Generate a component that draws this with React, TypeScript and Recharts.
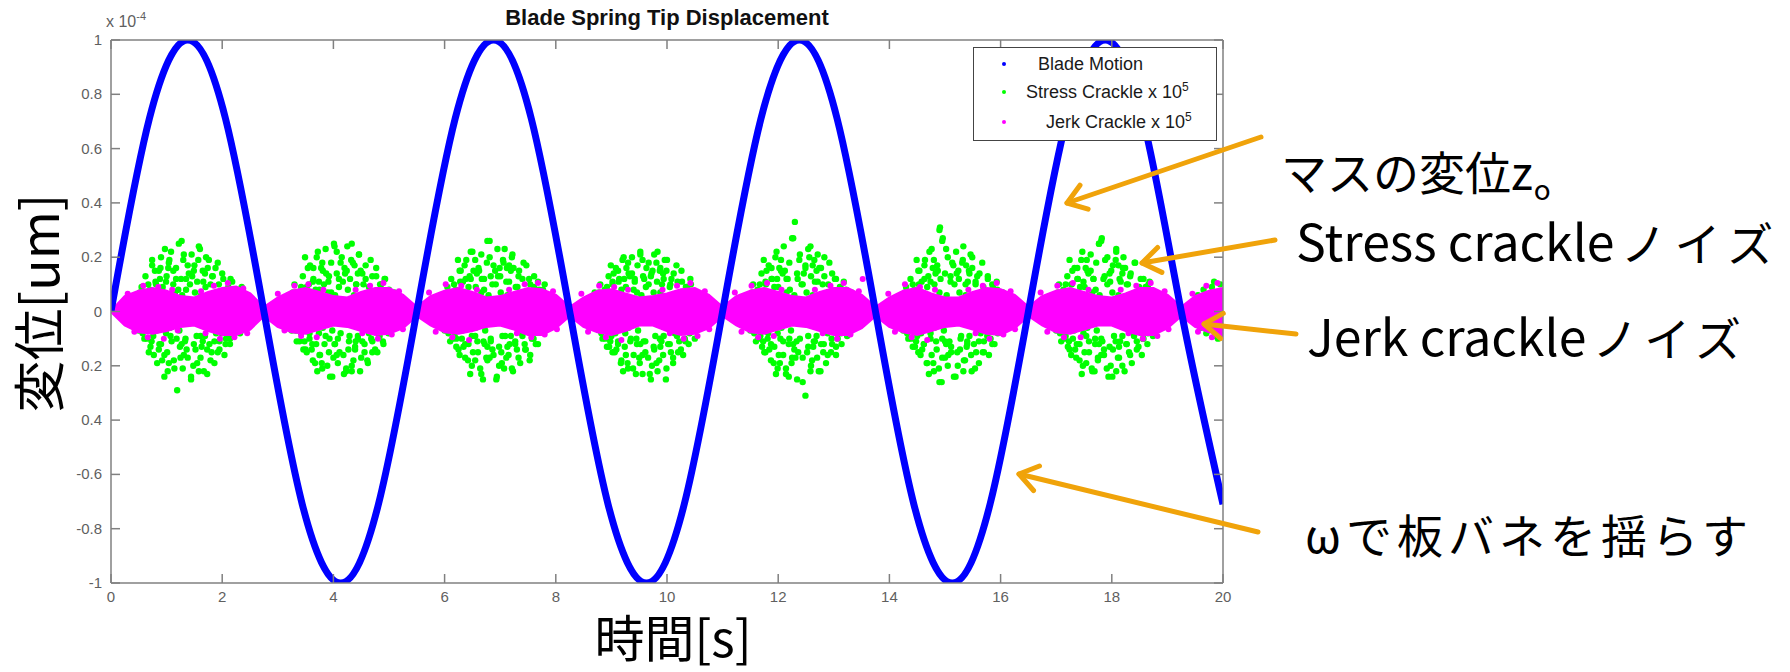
import React from 'react';
import { ComposedChart, Line, Area, Scatter, XAxis, YAxis, Legend } from 'recharts';

// ---------------- data ----------------
const xTicks = [0, 2, 4, 6, 8, 10, 12, 14, 16, 18, 20];
const yTicks = [-1, -0.8, -0.6, -0.4, -0.2, 0, 0.2, 0.4, 0.6, 0.8, 1];
const yTickLabels = ['-1', '-0.8', '-0.6', '0.4', '0.2', '0', '0.2', '0.4', '0.6', '0.8', '1'];

// Blade motion (x 1e-4)
const bladeT = [0, 0.69, 1.38, 2.06, 2.75, 3.44, 4.13, 4.81, 5.5, 6.19, 6.88, 7.56, 8.25, 8.94, 9.63, 10.31, 11.0, 11.69, 12.38, 13.06, 13.75, 14.44, 15.13, 15.81, 16.5, 17.19, 17.88, 18.56, 19.25, 20];
const bladeV = [0, 0.71, 1, 0.71, 0, -0.71, -1, -0.71, 0, 0.71, 1, 0.71, 0, -0.71, -1, -0.71, 0, 0.71, 1, 0.71, 0, -0.71, -1, -0.71, 0, 0.71, 1, 0.71, 0, -0.71];

// Jerk crackle band (x 1e5), sampled every 0.25 s
const jerkT = [0, 0.25, 0.5, 0.75, 1, 1.25, 1.5, 1.75, 2, 2.25, 2.5, 2.75, 3, 3.25, 3.5, 3.75, 4, 4.25, 4.5, 4.75, 5, 5.25, 5.5, 5.75, 6, 6.25, 6.5, 6.75, 7, 7.25, 7.5, 7.75, 8, 8.25, 8.5, 8.75, 9, 9.25, 9.5, 9.75, 10, 10.25, 10.5, 10.75, 11, 11.25, 11.5, 11.75, 12, 12.25, 12.5, 12.75, 13, 13.25, 13.5, 13.75, 14, 14.25, 14.5, 14.75, 15, 15.25, 15.5, 15.75, 16, 16.25, 16.5, 16.75, 17, 17.25, 17.5, 17.75, 18, 18.25, 18.5, 18.75, 19, 19.25, 19.5, 19.75, 20];
const jerkHi = [0.0, 0.055, 0.075, 0.085, 0.075, 0.055, 0.05, 0.07, 0.085, 0.09, 0.065, 0.015,
  0.05, 0.075, 0.085, 0.07, 0.055, 0.05, 0.07, 0.085, 0.085, 0.06, 0.015,
  0.055, 0.075, 0.085, 0.07, 0.05, 0.055, 0.07, 0.085, 0.08, 0.06, 0.015,
  0.05, 0.075, 0.08, 0.065, 0.05, 0.055, 0.065, 0.08, 0.085, 0.06, 0.015,
  0.055, 0.075, 0.085, 0.07, 0.055, 0.05, 0.07, 0.085, 0.085, 0.06, 0.015,
  0.05, 0.075, 0.085, 0.065, 0.05, 0.05, 0.07, 0.085, 0.08, 0.06, 0.015,
  0.055, 0.075, 0.085, 0.07, 0.055, 0.05, 0.065, 0.085, 0.085, 0.06, 0.015,
  0.055, 0.075, 0.085];
const jerkLo = [0.0, -0.05, -0.075, -0.08, -0.07, -0.055, -0.05, -0.07, -0.085, -0.085, -0.065, -0.015,
  -0.055, -0.075, -0.08, -0.065, -0.05, -0.055, -0.07, -0.085, -0.08, -0.06, -0.015,
  -0.05, -0.075, -0.08, -0.07, -0.055, -0.05, -0.065, -0.085, -0.085, -0.06, -0.015,
  -0.055, -0.075, -0.085, -0.07, -0.05, -0.05, -0.07, -0.085, -0.08, -0.06, -0.015,
  -0.05, -0.075, -0.08, -0.065, -0.05, -0.055, -0.07, -0.085, -0.085, -0.06, -0.015,
  -0.055, -0.075, -0.085, -0.07, -0.055, -0.05, -0.065, -0.08, -0.085, -0.06, -0.015,
  -0.05, -0.075, -0.08, -0.065, -0.05, -0.05, -0.07, -0.085, -0.085, -0.06, -0.015,
  -0.055, -0.075, -0.08];

// Jerk crackle dots lying around the band edges
const jerkDots = [
  [0.3, 0.065], [0.42, -0.075], [0.58, 0.095], [0.66, -0.095], [0.85, 0.09], [0.95, -0.1], [1.1, 0.08], [1.2, -0.07], [1.62, 0.075], [1.7, -0.08], [1.85, 0.095], [1.96, -0.1], [2.1, 0.105], [2.22, -0.095], [2.38, 0.085], [2.45, -0.08],
  [3.0, 0.065], [3.12, -0.07], [3.3, 0.095], [3.42, -0.09], [3.55, 0.1], [3.7, -0.095], [3.82, 0.08], [4.4, 0.08], [4.52, -0.08], [4.66, 0.095], [4.8, -0.1], [4.9, 0.105], [5.05, -0.085], [5.18, 0.075], [5.25, -0.065],
  [5.72, 0.07], [5.84, -0.075], [6.02, 0.1], [6.14, -0.095], [6.3, 0.095], [6.44, -0.105], [6.58, 0.08], [7.16, 0.08], [7.3, -0.08], [7.44, 0.1], [7.56, -0.095], [7.68, 0.105], [7.8, -0.085], [7.95, 0.075], [8.02, -0.065],
  [8.46, 0.065], [8.58, -0.075], [8.78, 0.095], [8.9, -0.095], [9.05, 0.09], [9.18, -0.105], [9.3, 0.08], [9.92, 0.08], [10.05, -0.08], [10.18, 0.095], [10.3, -0.1], [10.42, 0.105], [10.55, -0.09], [10.68, 0.075], [10.76, -0.065],
  [11.22, 0.07], [11.34, -0.075], [11.52, 0.095], [11.64, -0.095], [11.8, 0.105], [11.92, -0.09], [12.06, 0.08], [12.66, 0.08], [12.8, -0.08], [12.94, 0.095], [13.06, -0.1], [13.18, 0.105], [13.3, -0.085], [13.45, 0.075], [13.52, 0.12],
  [13.98, 0.065], [14.1, -0.075], [14.28, 0.1], [14.4, -0.095], [14.55, 0.09], [14.68, -0.105], [14.82, 0.08], [15.42, 0.08], [15.55, -0.08], [15.68, 0.095], [15.8, -0.1], [15.93, 0.105], [16.05, -0.085], [16.18, 0.075], [16.26, -0.065],
  [16.72, 0.07], [16.84, -0.075], [17.02, 0.095], [17.14, -0.095], [17.3, 0.105], [17.44, -0.095], [17.58, 0.08], [18.16, 0.08], [18.3, -0.08], [18.44, 0.095], [18.56, -0.1], [18.7, 0.105], [18.82, -0.09], [18.95, 0.075], [19.02, -0.065],
  [19.45, 0.065], [19.55, -0.075], [19.7, 0.095], [19.8, -0.095], [19.9, 0.105], [19.97, -0.09],
];

// Stress crackle scatter (x 1e5)
const stressCrackle = [
  [0.45, 0.06], [0.55, 0.09], [0.62, 0.13], [0.7, 0.08], [0.74, 0.17], [0.8, 0.11], [0.86, 0.15], [0.9, 0.2], [0.95, 0.07], [1.0, 0.13], [1.04, 0.18], [1.08, 0.22], [1.12, 0.1], [1.17, 0.16], [1.22, 0.25], [1.26, 0.12], [1.3, 0.19], [1.35, 0.08], [1.4, 0.14], [1.45, 0.21], [1.5, 0.17], [1.55, 0.11], [1.6, 0.23], [1.65, 0.15], [1.7, 0.09], [1.76, 0.19], [1.82, 0.13], [1.88, 0.16], [1.94, 0.1], [2.0, 0.14], [2.08, 0.08], [2.15, 0.12], [2.25, 0.07], [2.35, 0.09],
  [0.5, -0.07], [0.6, -0.1], [0.68, -0.15], [0.76, -0.09], [0.83, -0.19], [0.9, -0.12], [0.96, -0.16], [1.02, -0.22], [1.07, -0.09], [1.13, -0.18], [1.19, -0.29], [1.24, -0.13], [1.29, -0.21], [1.34, -0.1], [1.38, -0.17], [1.44, -0.24], [1.49, -0.12], [1.55, -0.19], [1.61, -0.09], [1.67, -0.22], [1.73, -0.14], [1.79, -0.18], [1.86, -0.11], [1.92, -0.15], [1.99, -0.08], [2.06, -0.12], [2.14, -0.1], [2.22, -0.07], [2.32, -0.08],
  [0.52, 0.07], [1.31, 0.21], [0.88, 0.12], [1.74, 0.16], [1.05, 0.19], [2.11, 0.09], [0.67, 0.1], [1.46, 0.13], [1.92, 0.18], [0.79, 0.15], [1.21, 0.08], [1.58, 0.24], [2.27, 0.08], [0.97, 0.23], [1.66, 0.11], [1.12, 0.15], [0.61, 0.05], [1.83, 0.13], [1.38, 0.17], [2.02, 0.12], [0.93, 0.09], [1.27, 0.26], [1.51, 0.07], [0.74, 0.19], [1.99, 0.07], [1.17, 0.12], [1.71, 0.2], [0.84, 0.06], [1.42, 0.1], [2.18, 0.11],
  [0.57, -0.08], [1.36, -0.14], [0.92, -0.18], [1.77, -0.12], [1.09, -0.11], [2.07, -0.1], [0.71, -0.13], [1.48, -0.2], [1.95, -0.14], [0.82, -0.07], [1.61, -0.17], [2.24, -0.07], [1.01, -0.15], [1.69, -0.09], [1.14, -0.21], [0.64, -0.1], [1.86, -0.19], [1.33, -0.11], [2.04, -0.16], [0.96, -0.24], [1.25, -0.17], [1.54, -0.09], [0.77, -0.16], [1.89, -0.08], [1.23, -0.07], [1.73, -0.23], [0.87, -0.12], [1.44, -0.25], [2.14, -0.12], [1.06, -0.06], [1.63, -0.13],
  [0.81, 0.1], [1.15, 0.07], [1.49, 0.15], [1.79, 0.1], [1.03, 0.16], [1.62, 0.06], [0.99, 0.11], [1.35, 0.12], [1.69, 0.14], [1.28, 0.06], [0.89, 0.16], [1.57, 0.19],
  [0.86, -0.14], [1.18, -0.1], [1.52, -0.14], [1.81, -0.15], [1.04, -0.19], [1.65, -0.11], [0.99, -0.08], [1.31, -0.16], [1.58, -0.22], [1.27, -0.12], [0.73, -0.11], [1.95, -0.11],
  [3.2, 0.06], [3.3, 0.1], [3.38, 0.07], [3.45, 0.13], [3.52, 0.09], [3.58, 0.17], [3.64, 0.12], [3.7, 0.2], [3.75, 0.08], [3.81, 0.15], [3.86, 0.23], [3.91, 0.11], [3.96, 0.18], [4.01, 0.25], [4.06, 0.14], [4.1, 0.09], [4.15, 0.2], [4.2, 0.16], [4.25, 0.24], [4.3, 0.12], [4.35, 0.18], [4.41, 0.1], [4.46, 0.21], [4.52, 0.14], [4.58, 0.17], [4.64, 0.09], [4.7, 0.13], [4.77, 0.16], [4.84, 0.1], [4.92, 0.12], [5.0, 0.08], [5.1, 0.07],
  [3.25, -0.07], [3.34, -0.11], [3.42, -0.08], [3.5, -0.14], [3.57, -0.1], [3.63, -0.18], [3.69, -0.12], [3.75, -0.16], [3.8, -0.21], [3.86, -0.09], [3.92, -0.15], [3.98, -0.24], [4.03, -0.12], [4.08, -0.19], [4.13, -0.08], [4.18, -0.16], [4.23, -0.22], [4.28, -0.11], [4.33, -0.2], [4.39, -0.14], [4.44, -0.09], [4.5, -0.17], [4.56, -0.12], [4.62, -0.19], [4.68, -0.1], [4.75, -0.14], [4.83, -0.09], [4.9, -0.12], [4.98, -0.07],
  [3.27, 0.07], [4.06, 0.22], [3.63, 0.11], [4.49, 0.15], [3.8, 0.18], [4.86, 0.1], [3.42, 0.09], [4.21, 0.14], [4.67, 0.19], [3.54, 0.16], [3.96, 0.07], [4.33, 0.25], [5.02, 0.07], [3.72, 0.22], [4.41, 0.1], [3.87, 0.14], [3.36, 0.06], [4.58, 0.12], [4.13, 0.18], [4.77, 0.13], [3.68, 0.08], [4.02, 0.24], [4.26, 0.08], [3.49, 0.2], [4.74, 0.06], [3.92, 0.13], [4.46, 0.21], [3.59, 0.05], [4.17, 0.11], [4.93, 0.12], [3.83, 0.1], [4.38, 0.17],
  [3.32, -0.07], [4.11, -0.15], [3.67, -0.19], [4.52, -0.11], [3.84, -0.12], [4.82, -0.09], [3.46, -0.14], [4.23, -0.21], [4.7, -0.15], [3.57, -0.08], [3.94, -0.24], [4.36, -0.18], [4.99, -0.08], [3.76, -0.16], [4.44, -0.1], [3.89, -0.2], [3.39, -0.11], [4.61, -0.18], [4.08, -0.1], [4.79, -0.15], [3.71, -0.22], [4.0, -0.17], [4.29, -0.09], [3.52, -0.15], [4.64, -0.08], [3.98, -0.07], [4.48, -0.22], [3.62, -0.12], [4.19, -0.23], [4.89, -0.11], [3.81, -0.06], [4.39, -0.13],
  [3.56, 0.1], [3.9, 0.07], [4.24, 0.15], [4.54, 0.1], [3.78, 0.16], [4.37, 0.06], [3.74, 0.11], [4.1, 0.12], [4.44, 0.14], [4.03, 0.06], [3.64, 0.16], [4.32, 0.19],
  [3.61, -0.14], [3.93, -0.1], [4.27, -0.14], [4.56, -0.15], [3.79, -0.19], [4.4, -0.11], [3.74, -0.08], [4.06, -0.16], [4.33, -0.22], [4.02, -0.12], [3.48, -0.11], [4.7, -0.11],
  [5.95, 0.06], [6.05, 0.09], [6.12, 0.12], [6.2, 0.08], [6.27, 0.15], [6.33, 0.11], [6.39, 0.19], [6.45, 0.13], [6.5, 0.22], [6.56, 0.09], [6.61, 0.16], [6.66, 0.21], [6.71, 0.12], [6.76, 0.18], [6.81, 0.26], [6.86, 0.1], [6.91, 0.15], [6.95, 0.23], [7.0, 0.13], [7.05, 0.19], [7.11, 0.11], [7.16, 0.17], [7.22, 0.21], [7.28, 0.09], [7.34, 0.15], [7.4, 0.12], [7.47, 0.17], [7.54, 0.1], [7.61, 0.13], [7.7, 0.08], [7.8, 0.1],
  [6.0, -0.07], [6.1, -0.11], [6.18, -0.09], [6.25, -0.14], [6.31, -0.1], [6.37, -0.17], [6.43, -0.12], [6.49, -0.2], [6.55, -0.09], [6.6, -0.15], [6.66, -0.23], [6.72, -0.12], [6.77, -0.18], [6.83, -0.1], [6.88, -0.16], [6.93, -0.25], [6.98, -0.13], [7.03, -0.19], [7.09, -0.09], [7.15, -0.16], [7.21, -0.21], [7.27, -0.11], [7.33, -0.17], [7.4, -0.09], [7.46, -0.14], [7.53, -0.18], [7.6, -0.1], [7.68, -0.12], [7.76, -0.07],
  [6.03, 0.06], [6.81, 0.2], [6.38, 0.12], [7.24, 0.16], [6.55, 0.19], [7.61, 0.09], [6.17, 0.1], [6.96, 0.13], [7.42, 0.18], [6.29, 0.15], [6.71, 0.08], [7.08, 0.23], [7.77, 0.08], [6.47, 0.22], [7.16, 0.11], [6.62, 0.15], [6.11, 0.05], [7.33, 0.13], [6.88, 0.17], [7.52, 0.12], [6.43, 0.09], [6.77, 0.26], [7.01, 0.07], [6.24, 0.19], [7.49, 0.07], [6.67, 0.12], [7.21, 0.2], [6.34, 0.06], [6.92, 0.1], [7.68, 0.11], [6.58, 0.14], [7.12, 0.16],
  [6.07, -0.08], [6.86, -0.14], [6.42, -0.18], [7.27, -0.12], [6.59, -0.11], [7.57, -0.1], [6.21, -0.13], [6.98, -0.2], [7.45, -0.14], [6.32, -0.07], [6.69, -0.25], [7.11, -0.17], [7.74, -0.07], [6.51, -0.15], [7.19, -0.09], [6.64, -0.21], [6.14, -0.1], [7.36, -0.19], [6.83, -0.11], [7.54, -0.16], [6.46, -0.23], [6.75, -0.17], [7.04, -0.09], [6.27, -0.16], [7.39, -0.08], [6.73, -0.07], [7.23, -0.22], [6.37, -0.12], [6.94, -0.24], [7.64, -0.12], [6.56, -0.06], [7.13, -0.13],
  [6.28, 0.11], [6.66, 0.07], [6.99, 0.16], [7.31, 0.09], [6.52, 0.15], [7.13, 0.06], [6.47, 0.12], [6.83, 0.13], [7.19, 0.15], [6.79, 0.06], [6.36, 0.17], [7.06, 0.18],
  [6.34, -0.13], [6.7, -0.11], [7.02, -0.15], [7.3, -0.14], [6.55, -0.18], [7.17, -0.12], [6.49, -0.09], [6.81, -0.17], [7.07, -0.21], [6.77, -0.13], [6.21, -0.1], [7.44, -0.12],
  [8.7, 0.07], [8.8, 0.1], [8.88, 0.08], [8.95, 0.13], [9.02, 0.1], [9.08, 0.16], [9.14, 0.12], [9.2, 0.19], [9.26, 0.09], [9.31, 0.14], [9.37, 0.2], [9.42, 0.11], [9.47, 0.17], [9.52, 0.22], [9.57, 0.13], [9.62, 0.09], [9.67, 0.18], [9.72, 0.14], [9.77, 0.21], [9.82, 0.11], [9.88, 0.16], [9.94, 0.12], [10.0, 0.19], [10.06, 0.1], [10.12, 0.14], [10.19, 0.11], [10.26, 0.15], [10.34, 0.09], [10.42, 0.12], [10.52, 0.07],
  [8.75, -0.06], [8.84, -0.1], [8.92, -0.13], [9.0, -0.09], [9.06, -0.15], [9.12, -0.11], [9.18, -0.18], [9.24, -0.13], [9.3, -0.21], [9.35, -0.1], [9.4, -0.16], [9.46, -0.12], [9.51, -0.19], [9.56, -0.23], [9.61, -0.11], [9.66, -0.17], [9.71, -0.25], [9.76, -0.13], [9.81, -0.19], [9.87, -0.1], [9.93, -0.16], [9.99, -0.21], [10.05, -0.12], [10.11, -0.17], [10.18, -0.09], [10.25, -0.14], [10.33, -0.11], [10.41, -0.08], [10.5, -0.1],
  [8.78, 0.07], [9.56, 0.19], [9.13, 0.11], [9.99, 0.15], [9.3, 0.18], [10.36, 0.09], [8.92, 0.09], [9.71, 0.13], [10.17, 0.17], [9.04, 0.14], [9.46, 0.07], [9.83, 0.22], [10.52, 0.07], [9.22, 0.2], [9.91, 0.1], [9.37, 0.14], [8.86, 0.05], [10.08, 0.12], [9.63, 0.16], [10.27, 0.11], [9.18, 0.08], [9.52, 0.21], [9.76, 0.07], [8.99, 0.17], [10.24, 0.06], [9.42, 0.12], [9.96, 0.19], [9.09, 0.06], [9.67, 0.1], [10.43, 0.1], [9.33, 0.13], [9.87, 0.15],
  [8.82, -0.08], [9.61, -0.15], [9.17, -0.19], [10.02, -0.12], [9.34, -0.11], [10.32, -0.1], [8.96, -0.13], [9.73, -0.2], [10.2, -0.15], [9.07, -0.08], [9.44, -0.23], [9.86, -0.18], [10.49, -0.07], [9.26, -0.16], [9.94, -0.09], [9.39, -0.21], [8.89, -0.1], [10.11, -0.19], [9.58, -0.11], [10.29, -0.16], [9.21, -0.22], [9.5, -0.17], [9.79, -0.09], [9.02, -0.15], [10.14, -0.08], [9.48, -0.07], [9.98, -0.25], [9.12, -0.12], [9.69, -0.23], [10.39, -0.12], [9.31, -0.06], [9.88, -0.13],
  [9.02, 0.11], [9.4, 0.08], [9.74, 0.15], [10.05, 0.09], [9.27, 0.16], [9.88, 0.07], [9.23, 0.12], [9.59, 0.12], [9.93, 0.14], [9.54, 0.06], [9.12, 0.15], [9.81, 0.18],
  [9.09, -0.14], [9.45, -0.1], [9.77, -0.14], [10.07, -0.15], [9.29, -0.19], [9.9, -0.11], [9.25, -0.08], [9.56, -0.16], [9.83, -0.22], [9.52, -0.12], [8.98, -0.11], [10.22, -0.11],
  [11.45, 0.06], [11.55, 0.1], [11.63, 0.08], [11.7, 0.14], [11.77, 0.11], [11.83, 0.17], [11.89, 0.12], [11.95, 0.2], [12.0, 0.09], [12.05, 0.15], [12.1, 0.24], [12.15, 0.12], [12.2, 0.18], [12.25, 0.27], [12.3, 0.33], [12.34, 0.14], [12.39, 0.21], [12.44, 0.1], [12.49, 0.17], [12.54, 0.23], [12.59, 0.13], [12.65, 0.19], [12.71, 0.11], [12.77, 0.16], [12.83, 0.2], [12.9, 0.1], [12.97, 0.14], [13.04, 0.12], [13.12, 0.09], [13.22, 0.08], [13.32, 0.07],
  [11.5, -0.07], [11.6, -0.11], [11.68, -0.09], [11.75, -0.15], [11.81, -0.1], [11.87, -0.18], [11.93, -0.13], [11.99, -0.21], [12.04, -0.1], [12.09, -0.16], [12.14, -0.23], [12.19, -0.12], [12.24, -0.19], [12.29, -0.14], [12.34, -0.25], [12.39, -0.1], [12.44, -0.17], [12.49, -0.31], [12.54, -0.13], [12.59, -0.2], [12.64, -0.11], [12.7, -0.17], [12.76, -0.22], [12.82, -0.12], [12.89, -0.16], [12.96, -0.1], [13.04, -0.13], [13.13, -0.08], [13.24, -0.09],
  [11.53, 0.07], [11.88, 0.12], [12.74, 0.16], [12.05, 0.19], [13.11, 0.09], [11.67, 0.1], [12.46, 0.14], [12.92, 0.18], [11.79, 0.15], [12.21, 0.08], [12.58, 0.24], [13.27, 0.07], [11.97, 0.22], [12.66, 0.11], [12.12, 0.15], [11.61, 0.05], [12.83, 0.13], [12.38, 0.19], [13.02, 0.12], [11.93, 0.09], [12.27, 0.27], [12.51, 0.07], [11.74, 0.19], [12.99, 0.07], [12.17, 0.12], [12.71, 0.21], [11.84, 0.06], [12.42, 0.1], [13.18, 0.11], [12.08, 0.14], [12.62, 0.17],
  [11.57, -0.08], [12.36, -0.15], [11.92, -0.19], [12.77, -0.12], [12.09, -0.11], [13.07, -0.1], [11.71, -0.13], [12.95, -0.15], [11.82, -0.08], [12.19, -0.24], [12.61, -0.18], [13.24, -0.07], [12.01, -0.16], [12.69, -0.09], [12.14, -0.21], [11.64, -0.1], [12.86, -0.19], [12.33, -0.11], [13.04, -0.16], [11.96, -0.23], [12.25, -0.17], [12.54, -0.09], [11.77, -0.15], [12.89, -0.08], [12.23, -0.07], [12.73, -0.22], [11.87, -0.12], [12.44, -0.26], [13.14, -0.12], [12.06, -0.06], [12.63, -0.13],
  [11.78, 0.1], [12.15, 0.07], [12.49, 0.16], [12.8, 0.1], [12.02, 0.16], [12.62, 0.06], [11.98, 0.12], [12.35, 0.12], [12.69, 0.15], [12.29, 0.06], [11.88, 0.16], [12.56, 0.2],
  [11.84, -0.14], [12.2, -0.1], [12.52, -0.15], [12.81, -0.15], [12.03, -0.19], [12.66, -0.11], [11.99, -0.08], [12.31, -0.17], [12.58, -0.22], [12.27, -0.12], [11.73, -0.11], [12.97, -0.12],
  [14.2, 0.06], [14.3, 0.09], [14.38, 0.12], [14.45, 0.08], [14.52, 0.15], [14.58, 0.11], [14.64, 0.19], [14.7, 0.13], [14.76, 0.23], [14.81, 0.1], [14.86, 0.17], [14.9, 0.3], [14.95, 0.26], [15.0, 0.14], [15.05, 0.2], [15.1, 0.11], [15.15, 0.17], [15.2, 0.22], [15.25, 0.12], [15.31, 0.18], [15.37, 0.1], [15.43, 0.15], [15.49, 0.2], [15.55, 0.11], [15.62, 0.14], [15.69, 0.09], [15.77, 0.13], [15.85, 0.1], [15.94, 0.08], [16.04, 0.07],
  [14.25, -0.07], [14.34, -0.1], [14.42, -0.13], [14.5, -0.09], [14.56, -0.16], [14.62, -0.12], [14.68, -0.19], [14.74, -0.1], [14.8, -0.22], [14.85, -0.14], [14.9, -0.26], [14.95, -0.17], [15.0, -0.11], [15.05, -0.2], [15.11, -0.13], [15.16, -0.24], [15.22, -0.15], [15.28, -0.1], [15.34, -0.18], [15.4, -0.12], [15.47, -0.16], [15.54, -0.21], [15.61, -0.11], [15.68, -0.15], [15.76, -0.09], [15.85, -0.12], [15.95, -0.08],
  [14.28, 0.07], [14.91, 0.31], [14.63, 0.12], [15.49, 0.16], [14.8, 0.19], [15.86, 0.09], [14.42, 0.1], [15.21, 0.14], [15.67, 0.18], [14.54, 0.15], [14.96, 0.27], [15.33, 0.24], [16.02, 0.07], [14.72, 0.22], [15.41, 0.11], [14.87, 0.15], [14.36, 0.05], [15.58, 0.13], [15.13, 0.18], [15.77, 0.12], [14.68, 0.09], [15.02, 0.23], [15.26, 0.07], [14.49, 0.19], [15.74, 0.06], [14.92, 0.12], [15.46, 0.21], [14.59, 0.06], [15.17, 0.1], [15.93, 0.11], [14.83, 0.14], [15.38, 0.17],
  [14.32, -0.08], [15.11, -0.15], [14.67, -0.19], [15.52, -0.12], [14.84, -0.11], [15.82, -0.1], [14.46, -0.13], [15.23, -0.2], [15.7, -0.15], [14.57, -0.08], [14.94, -0.26], [15.36, -0.18], [15.99, -0.07], [14.76, -0.16], [15.44, -0.09], [14.89, -0.21], [14.39, -0.1], [15.61, -0.19], [15.08, -0.11], [15.79, -0.16], [14.71, -0.23], [15.0, -0.17], [15.29, -0.09], [14.52, -0.15], [15.64, -0.08], [14.98, -0.07], [15.48, -0.22], [14.62, -0.12], [15.19, -0.24], [15.89, -0.12], [14.81, -0.06], [15.39, -0.13],
  [14.53, 0.1], [14.9, 0.07], [15.24, 0.15], [15.55, 0.1], [14.78, 0.16], [15.37, 0.06], [14.74, 0.11], [15.1, 0.13], [15.44, 0.14], [15.03, 0.06], [14.63, 0.17], [15.32, 0.19],
  [14.59, -0.14], [14.95, -0.1], [15.27, -0.14], [15.56, -0.15], [14.79, -0.19], [15.4, -0.11], [14.74, -0.08], [15.06, -0.16], [15.33, -0.22], [15.02, -0.12], [14.48, -0.11], [15.7, -0.11],
  [16.95, 0.06], [17.05, 0.1], [17.13, 0.08], [17.2, 0.13], [17.27, 0.1], [17.33, 0.16], [17.39, 0.12], [17.45, 0.19], [17.51, 0.09], [17.56, 0.15], [17.62, 0.21], [17.67, 0.12], [17.72, 0.18], [17.77, 0.25], [17.82, 0.27], [17.87, 0.13], [17.92, 0.2], [17.97, 0.11], [18.02, 0.17], [18.08, 0.22], [18.14, 0.12], [18.2, 0.16], [18.27, 0.1], [18.34, 0.14], [18.41, 0.18], [18.49, 0.09], [18.57, 0.12], [18.66, 0.1], [18.76, 0.07],
  [17.0, -0.07], [17.09, -0.11], [17.17, -0.09], [17.24, -0.14], [17.3, -0.1], [17.36, -0.17], [17.42, -0.12], [17.48, -0.2], [17.54, -0.09], [17.59, -0.15], [17.65, -0.22], [17.7, -0.12], [17.75, -0.18], [17.81, -0.1], [17.86, -0.16], [17.91, -0.21], [17.96, -0.13], [18.01, -0.24], [18.07, -0.11], [18.13, -0.17], [18.19, -0.2], [18.26, -0.12], [18.33, -0.16], [18.4, -0.09], [18.48, -0.13], [18.56, -0.1], [18.65, -0.08], [18.74, -0.09],
  [17.03, 0.07], [17.81, 0.26], [17.38, 0.12], [18.24, 0.16], [17.55, 0.19], [18.61, 0.09], [17.17, 0.1], [17.96, 0.14], [18.42, 0.18], [17.29, 0.15], [17.71, 0.08], [18.08, 0.23], [18.77, 0.07], [17.47, 0.22], [18.16, 0.11], [17.62, 0.15], [17.11, 0.05], [18.33, 0.13], [17.88, 0.19], [18.52, 0.12], [17.43, 0.09], [17.77, 0.25], [18.01, 0.07], [17.24, 0.19], [18.49, 0.07], [17.67, 0.12], [18.21, 0.2], [17.34, 0.06], [17.92, 0.1], [18.68, 0.11], [17.58, 0.14], [18.12, 0.17],
  [17.07, -0.08], [17.86, -0.14], [17.42, -0.18], [18.27, -0.12], [17.59, -0.11], [18.57, -0.1], [17.21, -0.13], [17.98, -0.2], [18.45, -0.14], [17.32, -0.07], [17.69, -0.22], [18.11, -0.17], [18.74, -0.07], [17.51, -0.15], [18.19, -0.09], [17.64, -0.21], [17.14, -0.1], [18.36, -0.19], [17.83, -0.11], [18.54, -0.16], [17.46, -0.23], [17.75, -0.17], [18.04, -0.09], [17.27, -0.16], [18.39, -0.08], [17.73, -0.07], [18.23, -0.22], [17.37, -0.12], [17.94, -0.24], [18.64, -0.12], [17.56, -0.06], [18.13, -0.13],
  [17.28, 0.1], [17.65, 0.07], [17.99, 0.15], [18.29, 0.1], [17.53, 0.16], [18.12, 0.06], [17.49, 0.11], [17.85, 0.12], [18.19, 0.14], [17.78, 0.06], [17.38, 0.16], [18.07, 0.19],
  [17.34, -0.14], [17.7, -0.1], [18.02, -0.14], [18.31, -0.15], [17.54, -0.19], [18.15, -0.11], [17.49, -0.08], [17.81, -0.16], [18.08, -0.22], [17.77, -0.12], [17.23, -0.11], [18.45, -0.11],
  [19.55, 0.06], [19.65, 0.08], [19.72, 0.05], [19.8, 0.09], [19.88, 0.07], [19.95, 0.1], [19.6, -0.06], [19.7, -0.08], [19.78, -0.06], [19.86, -0.09], [19.93, -0.07], [19.98, -0.08], [19.84, 0.11], [19.91, -0.1],
];

const legendItems = ['Blade Motion', 'Stress Crackle x 10', 'Jerk Crackle x 10'];

// ---------------- derived tables ----------------
const bladeData = bladeT.map((t, i) => ({ t, v: bladeV[i] }));
const jerkBandData = jerkT.map((t, i) => ({ t, band: [jerkLo[i], jerkHi[i]] }));
const jerkDotData = jerkDots.map(([t, v]) => ({ t, v }));
const stressData = stressCrackle.map(([t, v]) => ({ t, v }));

// ---------------- styles ----------------
const W = 1790;
const H = 672;
const LEFT = 111;
const TOP = 40;
const RIGHT = 1223;
const BOTTOM = 583;
const AXIS = '#808080';
const TICKTXT = '#5f5f5f';
const TICKFONT = 'Liberation Sans, Arial, sans-serif';
const JP = '"Noto Sans CJK JP", "Noto Sans", sans-serif';
const ORANGE = '#F0A30A';

const yLabel = (v: number) => {
  const i = yTicks.findIndex((t) => Math.abs(t - v) < 1e-9);
  return i >= 0 ? yTickLabels[i] : String(v);
};

const BottomTick = (p: any) => (
  <g>
    <line x1={p.x} y1={p.y} x2={p.x} y2={p.y - 9} stroke={AXIS} strokeWidth={1.5} />
    <text x={p.x} y={p.y + 19} textAnchor="middle" fontFamily={TICKFONT} fontSize={15} fill={TICKTXT}>{p.payload.value}</text>
  </g>
);
const TopTick = (p: any) => (
  <line x1={p.x} y1={p.y} x2={p.x} y2={p.y + 9} stroke={AXIS} strokeWidth={1.5} />
);
const LeftTick = (p: any) => (
  <g>
    <line x1={p.x} y1={p.y} x2={p.x + 9} y2={p.y} stroke={AXIS} strokeWidth={1.5} />
    <text x={p.x - 9} y={p.y + 5} textAnchor="end" fontFamily={TICKFONT} fontSize={15} fill={TICKTXT}>{yLabel(p.payload.value)}</text>
  </g>
);
const RightTick = (p: any) => (
  <line x1={p.x} y1={p.y} x2={p.x - 9} y2={p.y} stroke={AXIS} strokeWidth={1.5} />
);

const GreenDot = (p: any) => <circle cx={p.cx} cy={p.cy} r={3.2} fill="#00ff00" />;
const MagentaDot = (p: any) => <circle cx={p.cx} cy={p.cy} r={3} fill="#ff00ff" />;

const LegendBox = () => {
  const colors = ['#0000ff', '#00ff00', '#ff00ff'];
  const textLeft = [64, 52, 72];
  const rowY = [16, 44, 74];
  return (
    <div style={{ position: 'relative', width: 242, height: 92, border: '1.5px solid #444', background: '#fff', fontFamily: TICKFONT, fontSize: 18, color: '#1a1a1a' }}>
      {legendItems.map((s, i) => (
        <React.Fragment key={s}>
          <div style={{ position: 'absolute', left: 28, top: rowY[i] - 2, width: 4, height: 4, borderRadius: 2, background: colors[i] }} />
          <div style={{ position: 'absolute', left: textLeft[i], top: rowY[i] - 11, whiteSpace: 'nowrap', lineHeight: '22px' }}>
            {s}
            {i > 0 ? <sup style={{ fontSize: 12, verticalAlign: 'top', position: 'relative', top: -5 }}>5</sup> : null}
          </div>
        </React.Fragment>
      ))}
    </div>
  );
};

const arrows = [
  { from: [1261, 137], to: [1067, 203] },
  { from: [1275, 240], to: [1142, 263] },
  { from: [1296, 334], to: [1204, 324] },
  { from: [1258, 532], to: [1019, 474] },
];

const Arrow = ({ from, to }: { from: number[]; to: number[] }) => {
  const dx = from[0] - to[0];
  const dy = from[1] - to[1];
  const len = Math.hypot(dx, dy);
  const ux = dx / len;
  const uy = dy / len;
  const L = 22;
  const a = (35 * Math.PI) / 180;
  const r = (ang: number) => [to[0] + L * (ux * Math.cos(ang) - uy * Math.sin(ang)), to[1] + L * (ux * Math.sin(ang) + uy * Math.cos(ang))];
  const p1 = r(a);
  const p2 = r(-a);
  return (
    <g stroke={ORANGE} strokeWidth={5} strokeLinecap="round" fill="none">
      <line x1={from[0]} y1={from[1]} x2={to[0]} y2={to[1]} />
      <polyline points={`${p1[0]},${p1[1]} ${to[0]},${to[1]} ${p2[0]},${p2[1]}`} strokeLinejoin="round" />
    </g>
  );
};

export default function App() {
  const axisLine = { stroke: AXIS, strokeWidth: 1.5 };
  return (
    <div style={{ position: 'absolute', left: 0, top: 0, width: W, height: H, background: '#fff' }}>
      <ComposedChart
        width={W}
        height={H}
        margin={{ top: TOP - 1, right: W - RIGHT - 1, bottom: H - BOTTOM - 1, left: LEFT - 1 }}
      >
        <XAxis xAxisId={0} type="number" dataKey="t" domain={[0, 20]} ticks={xTicks} interval={0} height={1} tickSize={0} tickMargin={0} tickLine={false} axisLine={axisLine} tick={<BottomTick />} allowDataOverflow />
        <XAxis xAxisId="top" orientation="top" type="number" dataKey="t" domain={[0, 20]} ticks={xTicks} interval={0} height={1} tickSize={0} tickMargin={0} tickLine={false} axisLine={axisLine} tick={<TopTick />} allowDataOverflow />
        <YAxis yAxisId={0} type="number" dataKey="v" domain={[-1, 1]} ticks={yTicks} interval={0} width={1} tickSize={0} tickMargin={0} tickLine={false} axisLine={axisLine} tick={<LeftTick />} allowDataOverflow />
        <YAxis yAxisId="right" orientation="right" type="number" dataKey="v" domain={[-1, 1]} ticks={yTicks} interval={0} width={1} tickSize={0} tickMargin={0} tickLine={false} axisLine={axisLine} tick={<RightTick />} allowDataOverflow />
        <Scatter zIndex={100} data={stressData} dataKey="v" shape={GreenDot} fill="#00ff00" isAnimationActive={false} legendType="none" />
        <Area zIndex={200} data={jerkBandData} dataKey="band" type="linear" stroke="#ff00ff" strokeWidth={3} fill="#ff00ff" fillOpacity={1} dot={false} activeDot={false} isAnimationActive={false} legendType="none" />
        <Scatter zIndex={300} data={jerkDotData} dataKey="v" shape={MagentaDot} fill="#ff00ff" isAnimationActive={false} legendType="none" />
        <Line zIndex={400} data={bladeData} dataKey="v" type="natural" stroke="#0000ff" strokeWidth={7} dot={false} activeDot={false} isAnimationActive={false} legendType="none" />
        <Legend layout="vertical" align="center" verticalAlign="middle" wrapperStyle={{ left: 973, top: 47, width: 245, height: 95 }} content={() => <LegendBox />} />
      </ComposedChart>
      <svg width={W} height={H} style={{ position: 'absolute', left: 0, top: 0, pointerEvents: 'none' }}>
        <text x={(LEFT + RIGHT) / 2} y={25} textAnchor="middle" fontFamily={TICKFONT} fontWeight="bold" fontSize={22} fill="#111">Blade Spring Tip Displacement</text>
        <text x={106} y={27} fontFamily={TICKFONT} fontSize={16} fill={TICKTXT}>
          x 10<tspan fontSize={11} dy={-7}>-4</tspan>
        </text>
        <text x={673} y={657} textAnchor="middle" fontFamily={JP} fontSize={50} fill="#000">時間[s]</text>
        <text x={0} y={0} transform="translate(59,303) rotate(-90)" textAnchor="middle" fontFamily={JP} fontSize={52} fill="#000">変位[um]</text>
        <text x={1281} y={190} fontFamily={JP} fontSize={46} fill="#000">
          マスの変位z<tspan dx={1} fontSize={28} dy={10}>o</tspan>
        </text>
        <text x={1296} y={261} fontFamily={JP} fontSize={50} fill="#000">
          Stress crackle<tspan dx={6} fontSize={46} letterSpacing={8}>ノイズ</tspan>
        </text>
        <text x={1307} y={356} fontFamily={JP} fontSize={50} fill="#000">
          Jerk crackle<tspan dx={6} fontSize={46} letterSpacing={6}>ノイズ</tspan>
        </text>
        <text x={1305} y={553} fontFamily={JP} fontSize={46} letterSpacing={5} fill="#000">ωで板バネを揺らす</text>
        {arrows.map((a, i) => (
          <Arrow key={i} from={a.from} to={a.to} />
        ))}
      </svg>
    </div>
  );
}
